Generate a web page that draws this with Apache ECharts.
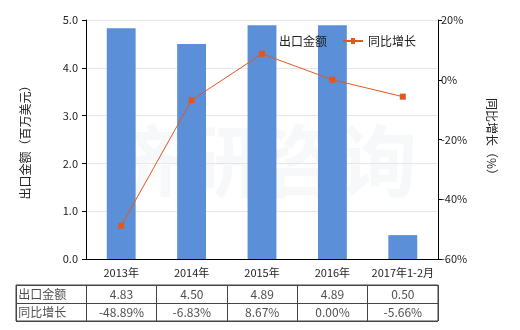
<!DOCTYPE html>
<html><head><meta charset="utf-8">
<script src="https://cdn.jsdelivr.net/npm/echarts@6/dist/echarts.min.js"></script>
<style>html,body{margin:0;padding:0;background:#fff}#c{width:520px;height:330px}</style>
</head><body><div id="c"></div>
<script>
var categories = ['2013年','2014年','2015年','2016年','2017年1-2月'];
var exportValues = [4.83, 4.50, 4.89, 4.89, 0.50];
var growthValues = [-48.89, -6.83, 8.67, 0.00, -5.66];
var leftTicks = {min:0, max:5, interval:1};
var rightTicks = {min:-60, max:20, interval:20};
var rowNames = ['出口金额','同比增长'];
var seriesNames = ['出口金额','同比增长'];

var FONT = '"Noto Sans CJK SC", "DejaVu Sans", sans-serif';
var tableCols = ['_label'].concat(categories);
var tableData = [];
rowNames.forEach(function(r, ri){
  tableData.push({value:['_label', r], label:{formatter:r, align:'left', offset:[-33,0]}});
  categories.forEach(function(c, ci){
    var txt = ri === 0 ? exportValues[ci].toFixed(2) : growthValues[ci].toFixed(2) + '%';
    tableData.push({value:[c, r], label:{formatter:txt}});
  });
});

var chart = echarts.init(document.getElementById('c'));
chart.setOption({
  animation:false,
  textStyle:{fontFamily:FONT},
  legend:{
    data:[
      {name:seriesNames[0], icon:'rect'},
      {name:seriesNames[1], icon:'path://M0,4 L8,4 L8,2 L12,2 L12,4 L20,4 L20,6 L12,6 L12,8 L8,8 L8,6 L0,6 Z'}
    ],
    left:249, top:30, itemWidth:20, itemHeight:10, itemGap:16,
    textStyle:{fontSize:12, color:'#222', fontFamily:FONT}
  },
  graphic:[{type:'text', left:105, top:122, silent:true, z:-1,
    style:{text:'济研咨询', fontSize:78, fontWeight:'bold', fill:'rgba(200,210,220,0.16)', fontFamily:FONT}}],
  grid:[
    {left:86, right:82, top:20, bottom:71},
    {left:16, right:82, top:285, height:36, show:true, borderColor:'#444', borderWidth:1}
  ],
  xAxis:[
    {type:'category', data:categories, gridIndex:0,
     axisLine:{lineStyle:{color:'#000'}},
     axisTick:{alignWithLabel:true, length:3, lineStyle:{color:'#000'}},
     axisLabel:{color:'#222', fontSize:11, margin:8, interval:0, fontFamily:FONT}},
    {type:'category', data:tableCols, gridIndex:1,
     axisLine:{show:false}, axisTick:{show:false}, axisLabel:{show:false},
     splitLine:{show:true, interval:0, lineStyle:{color:'#444'}}}
  ],
  yAxis:[
    {type:'value', gridIndex:0, min:leftTicks.min, max:leftTicks.max, interval:leftTicks.interval,
     name:'出口金额（百万美元）', nameLocation:'middle', nameGap:55, nameRotate:90,
     nameTextStyle:{fontSize:12, color:'#222', fontFamily:FONT},
     axisLine:{show:true, lineStyle:{color:'#000'}},
     axisTick:{show:true, length:4, lineStyle:{color:'#000'}},
     axisLabel:{color:'#222', fontSize:11, formatter:function(v){return v.toFixed(1);}},
     splitLine:{show:true, lineStyle:{color:'#e6e6e6'}}},
    {type:'value', gridIndex:0, position:'right', min:rightTicks.min, max:rightTicks.max, interval:rightTicks.interval,
     name:'同比增长（%）', nameLocation:'middle', nameGap:48, nameRotate:-90,
     nameTextStyle:{fontSize:12, color:'#222', fontFamily:FONT},
     axisLine:{show:true, lineStyle:{color:'#000'}},
     axisTick:{show:true, length:4, lineStyle:{color:'#000'}},
     axisLabel:{color:'#222', fontSize:11, margin:3, formatter:'{value}%'},
     splitLine:{show:false}},
    {type:'category', gridIndex:1, data:rowNames.slice(), inverse:true,
     axisLine:{show:false}, axisTick:{show:false}, axisLabel:{show:false},
     splitLine:{show:true, interval:0, lineStyle:{color:'#444'}}}
  ],
  series:[
    {name:seriesNames[0], type:'bar', data:exportValues, xAxisIndex:0, yAxisIndex:0,
     barWidth:'41%', itemStyle:{color:'#5b8fd7'}},
    {name:seriesNames[1], type:'line', data:growthValues, xAxisIndex:0, yAxisIndex:1,
     symbol:'rect', symbolSize:6, lineStyle:{color:'#e5561f', width:1},
     itemStyle:{color:'#e5561f'}},
    {type:'scatter', xAxisIndex:1, yAxisIndex:2, data:tableData, symbolSize:0,
     silent:true,
     label:{show:true, position:'inside', color:'#222', fontSize:12, fontFamily:FONT}}
  ]
});
</script></body></html>
